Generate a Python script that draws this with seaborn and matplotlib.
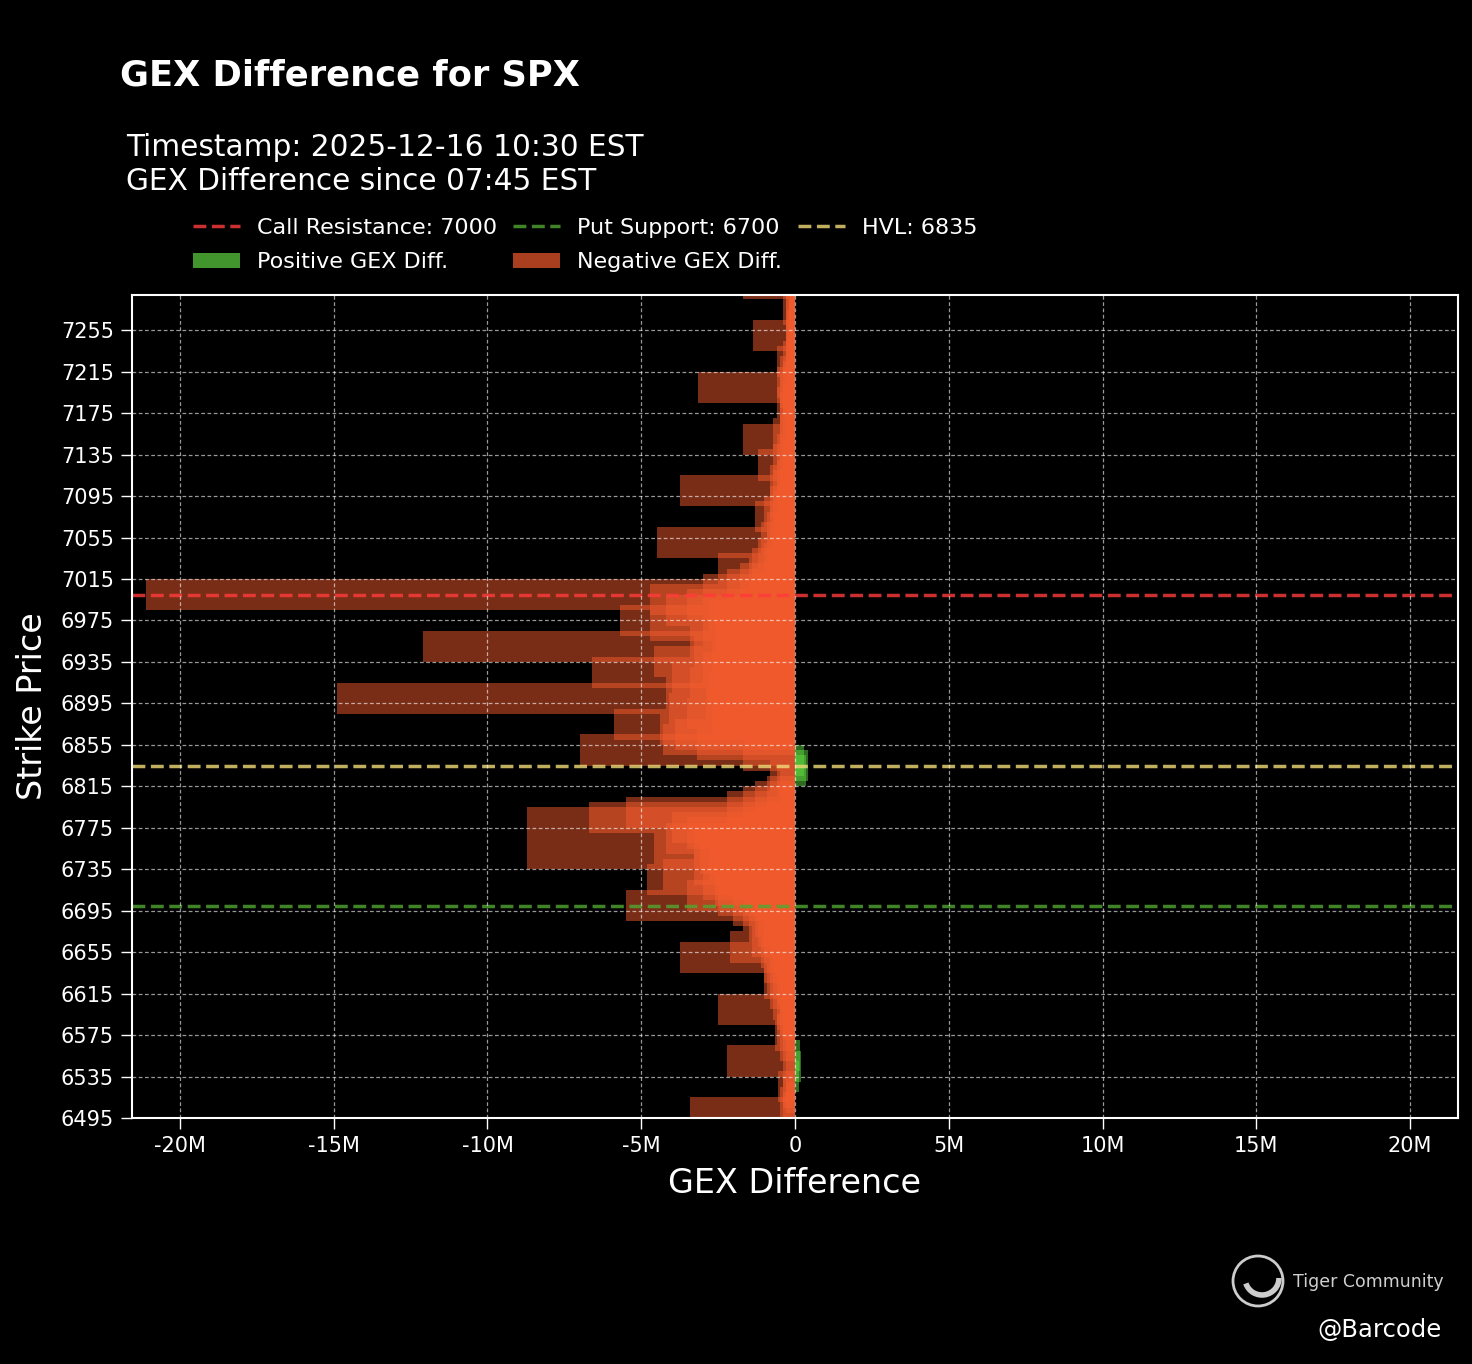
import numpy as np
import pandas as pd
import seaborn as sns
import matplotlib.pyplot as plt
from matplotlib.lines import Line2D
from matplotlib.patches import Patch, Ellipse, Arc
from matplotlib.ticker import FuncFormatter

# strikes every 5 points, GEX difference in millions
strikes = np.arange(6500, 7305, 5)
gex_diff_m = [
    -3.4, -0.4, -0.5, -0.3, -0.4,      # 6500
    -0.55, -0.3, 0.12, -0.4, 0.18,     # 6525
    -2.2, 0.15, -0.3, -0.5, -0.4,      # 6550
    -0.65, -0.6, -0.4, -0.5, -0.6,     # 6575
    -2.5, -0.7, -0.5, -0.8, -0.6,      # 6600
    -1.0, -0.9, -0.7, -1.0, -0.8,      # 6625
    -3.75, -1.1, -2.1, -1.4, -1.0,     # 6650
    -1.2, -1.5, -1.3, -1.7, -2.0,      # 6675
    -5.5, -2.5, -3.5, -2.6, -3.0,      # 6700
    -4.8, -4.3, -3.3, -2.8, -3.1,      # 6725
    -8.7, -4.6, -3.3, -4.2, -3.5,      # 6750
    -4.0, -8.7, -6.7, -5.5, -2.2,      # 6775
    -1.7, -1.3, -0.9, -0.5, -0.6,      # 6800
    -0.8, 0.35, 0.42, 0.3, -1.7,       # 6825
    -7.0, -3.2, -4.3, -3.9, -4.4,      # 6850
    -5.9, -2.7, -3.5, -4.1, -2.9,      # 6875
    -14.9, -4.2, -2.8, -3.4, -4.0,     # 6900
    -6.6, -3.0, -4.6, -2.7, -3.3,      # 6925
    -12.1, -3.4, -2.6, -3.0, -4.7,     # 6950
    -5.7, -2.8, -4.2, -3.5, -4.7,      # 6975
    -21.1, -3.0, -2.2, -1.8, -1.5,     # 7000
    -2.5, -1.4, -1.0, -1.2, -0.9,      # 7025
    -4.5, -1.1, -0.7, -0.9, -0.8,      # 7050
    -1.3, -1.0, -0.7, -0.8, -0.6,      # 7075
    -3.74, -0.7, -0.8, -0.6, -0.5,     # 7100
    -1.2, -0.7, -0.4, -0.6, -0.5,      # 7125
    -1.7, -0.7, -0.5, -0.3, -0.4,      # 7150
    -0.5, -0.5, -0.6, -0.4, -0.5,      # 7175
    -3.15, -0.6, -0.4, -0.5, -0.3,     # 7200
    -0.6, -0.4, -0.3, -0.2, -0.3,      # 7225
    -1.37, -0.3, -0.25, -0.3, -0.2,    # 7250
    -0.4, -0.2, -0.3, -0.2, -0.3,      # 7275
    -1.7,                              # 7300
]

call_resistance = 7000
put_support = 6700
hvl = 6835

y_ticks = list(range(6495, 7256, 40))
x_ticks_m = [-20, -15, -10, -5, 0, 5, 10, 15, 20]

pos_color = "#5DD640"
neg_color = "#F35B2D"

df = pd.DataFrame({"strike": strikes, "gex": np.array(gex_diff_m) * 1e6})
df["sign"] = np.where(df["gex"] >= 0, "Positive", "Negative")

sns.set_theme(style="dark", rc={"axes.facecolor": "black", "figure.facecolor": "black"})
plt.rcParams["font.family"] = ["DejaVu Sans"]

fig = plt.figure(figsize=(14.72, 13.64), dpi=100)
ax = fig.add_axes([132 / 1472, 1 - 1118 / 1364, (1458 - 132) / 1472, (1118 - 295) / 1364])

sns.barplot(data=df, x="gex", y="strike", hue="sign", orient="y", native_scale=True,
            width=6, dodge=False, palette={"Positive": pos_color, "Negative": neg_color},
            saturation=1, alpha=0.5, errorbar=None, legend=False, linewidth=0, ax=ax)

ax.axhline(call_resistance, color="#FF3B3B", ls="--", lw=2.5, alpha=0.8)
ax.axhline(put_support, color="#50A832", ls="--", lw=2.5, alpha=0.8)
ax.axhline(hvl, color="#F0DC78", ls="--", lw=2.5, alpha=0.8)

xmax = 21.56e6
ax.set_xlim(-xmax, xmax)
ax.set_ylim(6495, 7289)
ax.set_yticks(y_ticks)
ax.set_xticks([v * 1e6 for v in x_ticks_m])
ax.xaxis.set_major_formatter(FuncFormatter(lambda v, p: "0" if v == 0 else f"{v / 1e6:.0f}M"))

ax.grid(True, color="white", linestyle=(0, (3, 2)), linewidth=0.9, alpha=0.6)
ax.set_axisbelow(False)
for s in ax.spines.values():
    s.set_color("white")
    s.set_linewidth(1.5)
ax.tick_params(colors="white", labelsize=15, length=8, width=1, pad=5, bottom=True, left=True)
ax.set_xlabel("GEX Difference", fontsize=24, color="white", labelpad=8)
ax.set_ylabel("Strike Price", fontsize=24, color="white", labelpad=8)

# titles
fig.text(120 / 1472, 1 - 75 / 1364, "GEX Difference for SPX", fontsize=25.4, fontweight="bold",
         color="white", va="center", ha="left")
fig.text(126 / 1472, 1 - 147 / 1364, "Timestamp: 2025-12-16 10:30 EST", fontsize=21.3,
         color="white", va="center", ha="left")
fig.text(126 / 1472, 1 - 181 / 1364, "GEX Difference since 07:45 EST", fontsize=21.3,
         color="white", va="center", ha="left")

# legend (column-major with ncol=3)
handles = [
    Line2D([], [], color="#FF3B3B", ls="--", lw=2.5, alpha=0.8),
    Patch(facecolor=pos_color, edgecolor="none", alpha=0.7),
    Line2D([], [], color="#50A832", ls="--", lw=2.5, alpha=0.8),
    Patch(facecolor=neg_color, edgecolor="none", alpha=0.7),
    Line2D([], [], color="#F0DC78", ls="--", lw=2.5, alpha=0.8),
]
labels = [f"Call Resistance: {call_resistance}", "Positive GEX Diff.",
          f"Put Support: {put_support}", "Negative GEX Diff.", f"HVL: {hvl}"]
fig.legend(handles, labels, loc="upper left", bbox_to_anchor=(184 / 1472, 1 - 209 / 1364),
           ncol=3, frameon=False, fontsize=16, labelcolor="white", borderaxespad=0,
           handlelength=2.1, columnspacing=0.7, labelspacing=0.65)

# watermark
logo = Ellipse((1258 / 1472, 1 - 1281 / 1364), 50 / 1472, 50 / 1364, fill=False,
               edgecolor="#cccccc", lw=2, transform=fig.transFigure)
fig.patches.append(logo)
arc = Arc((1262 / 1472, 1 - 1278 / 1364), 34 / 1472, 34 / 1364, theta1=200, theta2=360,
          edgecolor="#cccccc", lw=4, transform=fig.transFigure)
fig.patches.append(arc)
fig.text(1293 / 1472, 1 - 1282 / 1364, "Tiger Community", fontsize=12.5, color="#cfcfcf",
         va="center", ha="left")
fig.text(1442 / 1472, 1 - 1330 / 1364, "@Barcode", fontsize=17.5, color="white",
         va="center", ha="right")

fig.savefig("out.png", dpi=100, facecolor="black")
